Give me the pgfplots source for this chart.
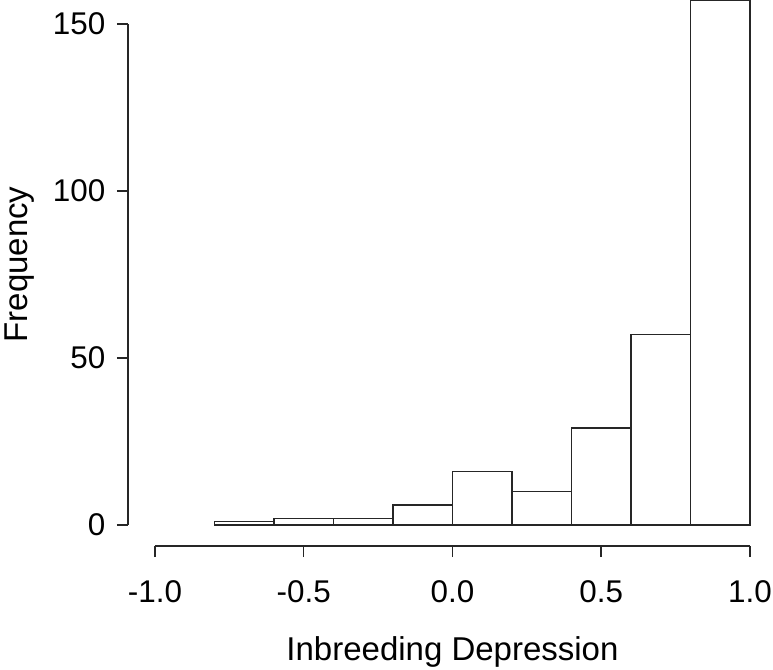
\documentclass[border=0pt]{standalone}
\usepackage{fontspec}
\setmainfont{Liberation Sans}
\usepackage{pgfplots}
\pgfplotsset{compat=1.18}
\begin{document}
\begin{tikzpicture}
\fontsize{14}{17}\selectfont
\path[use as bounding box] (-77.5pt,-72.5pt) rectangle (309pt,262.5pt);
\begin{axis}[
  anchor=south west, at={(0,0)},
  scale only axis,
  width=297.5pt, height=250.5pt,
  xmin=-1, xmax=1, ymin=0, ymax=150,
  clip=false,
  axis lines*=left,
  axis x line shift=10.5pt,
  axis y line shift=13.5pt,
  axis line style={line width=0.75pt, color=black!85, -},
  xtick={-1,-0.5,0,0.5,1},
  ytick={0,50,100,150},
  xticklabels={-1.0,-0.5,0.0,0.5,1.0},
  tick align=outside,
  major tick length=5.5pt,
  tick style={line width=0.75pt, color=black!85},
  /pgf/number format/assume math mode=true,
  tick label style={font=\fontsize{15.7}{18}\selectfont},
  xticklabel style={yshift=-7pt},
  yticklabel style={xshift=-1pt},
  xlabel={Inbreeding Depression},
  ylabel={Frequency},
  label style={font=\fontsize{16.5}{19}\selectfont},
  xlabel style={at={(axis description cs:0.5,0)}, anchor=center, yshift=-63.5pt},
  ylabel style={at={([xshift=-67.5pt]axis description cs:0,0.52)}, anchor=center},
]
\addplot[ybar interval, fill=white, draw=black!85, line width=0.75pt]
  coordinates {(-0.8,1) (-0.6,2) (-0.4,2) (-0.2,6) (0,16) (0.2,10) (0.4,29) (0.6,57) (0.8,157) (1.0,157)};
\end{axis}
\end{tikzpicture}
\end{document}
